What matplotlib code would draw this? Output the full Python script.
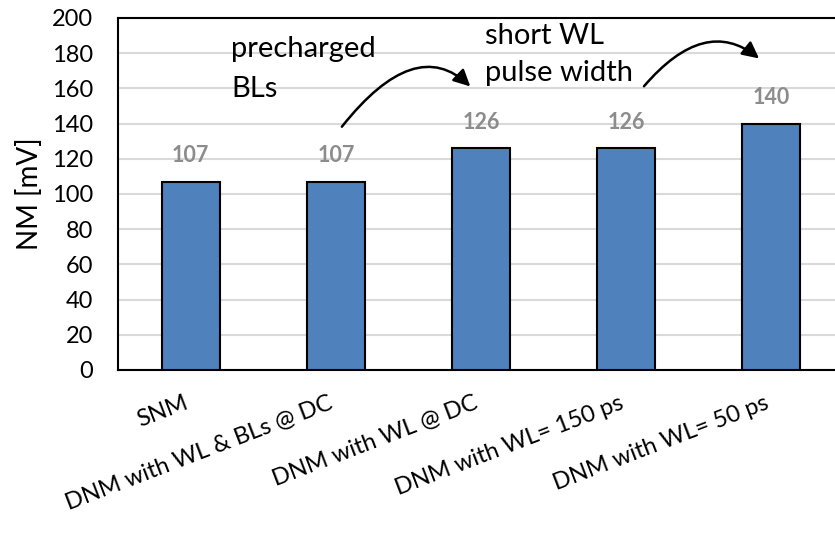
import matplotlib.pyplot as plt
from matplotlib.patches import FancyArrowPatch

plt.rcParams['font.family'] = ['Lato', 'DejaVu Sans']

categories = ["SNM", "DNM with WL & BLs @ DC", "DNM with WL @ DC",
              "DNM with WL= 150 ps", "DNM with WL= 50 ps"]
nm_values = [107, 107, 126, 126, 140]
y_ticks = list(range(0, 201, 20))

fig = plt.figure(figsize=(8.35, 5.38), dpi=100)
# axes runs slightly past the right edge of the figure
ax = fig.add_axes([118 / 835, 1 - 370 / 538, 726 / 835, 352 / 538])

x = list(range(len(categories)))
ax.bar(x, nm_values, width=0.4, color="#4F81BD", edgecolor="black",
       linewidth=1.5, zorder=3)

for xi, v in zip(x, nm_values):
    ax.annotate(str(v), (xi, v), xytext=(0, 26), textcoords="offset pixels",
                ha="center", va="center", fontsize=15.5, fontweight="bold",
                color="#8C8C8C", zorder=4)

ax.set_xlim(-0.5, 4.5)
ax.set_ylim(0, 200)
ax.set_yticks(y_ticks)
ax.tick_params(axis="y", length=0, labelsize=17, pad=18)
ax.tick_params(axis="x", length=0, labelsize=17, pad=16)
ax.set_xticks(x)
ax.set_xticklabels(categories, rotation=21, ha="right", va="top")
ax.yaxis.grid(True, color="#D9D9D9", linewidth=1.5, zorder=0)
ax.set_axisbelow(True)
for sp in ax.spines.values():
    sp.set_color("black")
    sp.set_linewidth(1.5)
ax.set_ylabel("NM [mV]", fontsize=20)
ax.yaxis.set_label_coords(-75 / 726, 0.5)

# annotation texts
ax.text(0.28, 178, "precharged", fontsize=21, ha="left", va="baseline")
ax.text(0.28, 155, "BLs", fontsize=21, ha="left", va="baseline")
ax.text(2.03, 185, "short WL", fontsize=21, ha="left", va="baseline")
ax.text(2.03, 164, "pulse width", fontsize=21, ha="left", va="baseline")

# curved arrows: steep rise from the start, bending down into the head
arrows = [((1.03, 137), (1.94, 160), 52, -45),
          ((3.11, 160), (3.93, 176), 50, -40)]
for start, end, ang_a, ang_b in arrows:
    arr = FancyArrowPatch(start, end,
                          connectionstyle=f"angle3,angleA={ang_a},angleB={ang_b}",
                          arrowstyle="-|>,head_length=10,head_width=5",
                          color="black", linewidth=1.8, zorder=5)
    ax.add_patch(arr)

fig.savefig("out.png", dpi=100)
